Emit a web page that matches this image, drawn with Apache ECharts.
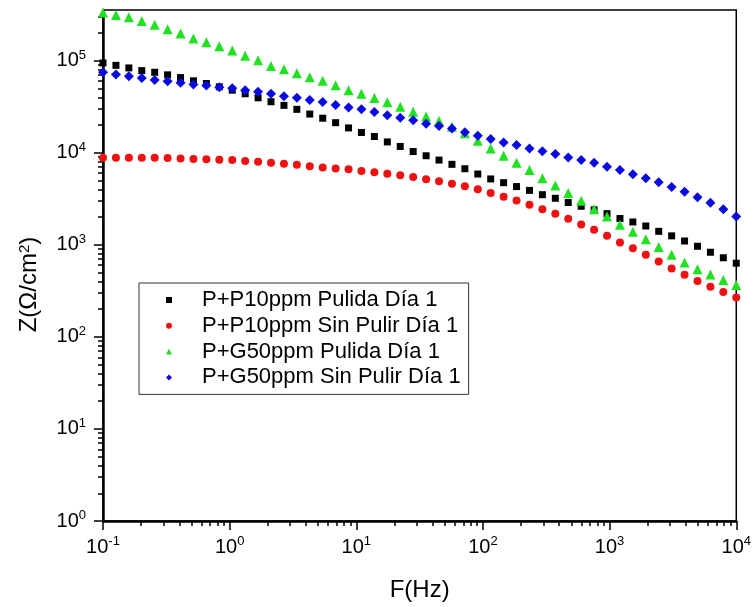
<!DOCTYPE html>
<html>
<head>
<meta charset="utf-8">
<script src="https://cdn.jsdelivr.net/npm/echarts@6/dist/echarts.min.js"></script>
<style>
  html, body { margin: 0; padding: 0; background: #fff; }
  #chart { width: 754px; height: 607px; }
</style>
</head>
<body>
<div id="chart"></div>
<script>
// Impedance modulus vs frequency, four samples
const freqHz = [0.1, 0.1265, 0.1600, 0.2024, 0.2560, 0.3237, 0.4095, 0.5179, 0.6551, 0.8286,
  1.048, 1.326, 1.677, 2.121, 2.683, 3.393, 4.292, 5.429, 6.866, 8.685,
  10.98, 13.89, 17.58, 22.23, 28.12, 35.57, 44.98, 56.90, 71.97, 91.03,
  115.1, 145.6, 184.2, 233.0, 294.7, 372.8, 471.5, 596.4, 754.3, 954.1,
  1207, 1526, 1931, 2442, 3089, 3907, 4942, 6251, 7906, 10000];

const p10Pulida = [94400, 88900, 83400, 78000, 74800, 70100, 65500, 60400, 56500, 52000,
  47800, 43700, 39500, 35800, 32700, 29600, 26300, 23700, 21200, 18600,
  16600, 15000, 13100, 11700, 10300, 9270, 8320, 7480, 6700, 5870,
  5190, 4730, 4290, 3900, 3500, 3200, 2880, 2620, 2400, 2180,
  1930, 1770, 1600, 1400, 1250, 1100, 964, 830, 723, 631];

const p10SinPulir = [8810, 8830, 8830, 8830, 8810, 8780, 8670, 8530, 8470, 8370,
  8320, 8110, 7980, 7780, 7590, 7400, 7140, 6930, 6760, 6610,
  6320, 6120, 5920, 5690, 5460, 5150, 4900, 4610, 4330, 4000,
  3650, 3320, 3030, 2720, 2440, 2170, 1920, 1660, 1460, 1250,
  1060, 916, 778, 659, 553, 473, 404, 351, 307, 267];

const g50Pulida = [333000, 314000, 296000, 269000, 245000, 220000, 197000, 174000, 158000, 143000,
  129000, 113000, 101000, 87700, 80500, 72900, 66100, 60400, 54100, 47800,
  43700, 39200, 35400, 31600, 27900, 24800, 22100, 19100, 16300, 13500,
  11100, 9270, 7780, 6490, 5270, 4400, 3660, 3000, 2440, 2030,
  1650, 1390, 1150, 948, 778, 643, 543, 476, 414, 366];

const g50SinPulir = [74800, 70600, 67600, 65000, 61800, 59700, 57400, 55100, 53700, 51500,
  50200, 47800, 45900, 43700, 41100, 39500, 37300, 35500, 32900, 31000,
  29600, 27700, 25600, 24000, 22500, 20700, 19500, 18300, 16700, 15300,
  14100, 12900, 12100, 11100, 10400, 9660, 8890, 8320, 7780, 7050,
  6490, 5830, 5270, 4780, 4250, 3780, 3290, 2860, 2440, 2030];

const seriesNames = ['P+P10ppm Pulida Día 1', 'P+P10ppm Sin Pulir Día 1',
  'P+G50ppm Pulida Día 1', 'P+G50ppm Sin Pulir Día 1'];

// Tick positions (decades and 2..9 sub-decades)
const xMajorTicks = [0.1, 1, 10, 100, 1000, 10000];
const yMajorTicks = [1, 10, 100, 1000, 10000, 100000];
const xMin = 0.1, xMax = 10000, yMin = 1, yMax = 355000;

function subDecades(lo, hi) {
  const out = [];
  for (let d = Math.floor(Math.log10(lo)); d < Math.ceil(Math.log10(hi)) + 1; d++) {
    for (let k = 2; k <= 9; k++) {
      const v = k * Math.pow(10, d);
      if (v > lo && v < hi) out.push(v);
    }
  }
  return out;
}
const xMinorTicks = subDecades(xMin, xMax);
const yMinorTicks = subDecades(yMin, yMax);

const NARROW = "'Liberation Sans Narrow', 'Liberation Sans', Arial, sans-serif";
const SANS = "'Liberation Sans', Arial, sans-serif";

const powRich = {
  b: { fontSize: 20, fontFamily: NARROW, color: '#000', lineHeight: 24 },
  s: { fontSize: 13, fontFamily: NARROW, color: '#000', lineHeight: 13, verticalAlign: 'top' }
};
function powLabel(v) {
  const e = Math.round(Math.log10(v));
  return '{b|10}{s|' + e + '}';
}

const chart = echarts.init(document.getElementById('chart'), null, { renderer: 'canvas' });

function pairs(arr) { return freqHz.map((f, i) => [f, arr[i]]); }

const markerStyles = [
  { symbol: 'rect', size: 7, color: '#000000' },
  { symbol: 'circle', size: 8, color: '#ee1111' },
  { symbol: 'triangle', size: 10, color: '#22e022' },
  { symbol: 'diamond', size: 10, color: '#0a0ae0' }
];
const values = [p10Pulida, p10SinPulir, g50Pulida, g50SinPulir];

const option = {
  animation: false,
  backgroundColor: '#fff',
  grid: {
    left: 103, right: 14, top: 10, bottom: 83,
    show: true, borderColor: '#000', borderWidth: 1.5, backgroundColor: 'transparent'
  },
  legend: {
    left: 139, top: 283, orient: 'vertical',
    itemWidth: 6, itemHeight: 6, itemGap: 3.8,
    symbolKeepAspect: true,
    padding: [6, 8, 6, 27],
    borderColor: '#333', borderWidth: 1, backgroundColor: '#fff',
    textStyle: { fontSize: 22, fontFamily: SANS, color: '#000', lineHeight: 22, padding: [0, 0, 0, 25] },
    data: seriesNames
  },
  xAxis: [
    {
      type: 'log', logBase: 10, min: xMin, max: xMax, position: 'bottom',
      axisLine: { lineStyle: { color: '#000', width: 2.5 } },
      axisTick: { inside: false, length: 9, lineStyle: { color: '#000', width: 1.5 }, customValues: xMajorTicks },
      axisLabel: { margin: 14, formatter: powLabel, rich: powRich, customValues: xMajorTicks },
      splitLine: { show: false },
      name: 'F(Hz)', nameLocation: 'middle', nameGap: 57,
      nameTextStyle: { fontSize: 24, fontFamily: NARROW, color: '#000' }
    },
    {
      type: 'log', logBase: 10, min: xMin, max: xMax, position: 'bottom',
      axisLine: { show: false },
      axisTick: { inside: false, length: 5, lineStyle: { color: '#000', width: 1.5 }, customValues: xMinorTicks },
      axisLabel: { show: false },
      splitLine: { show: false }
    }
  ],
  yAxis: [
    {
      type: 'log', logBase: 10, min: yMin, max: yMax, position: 'left',
      axisLine: { lineStyle: { color: '#000', width: 2.5 } },
      axisTick: { inside: false, length: 9, lineStyle: { color: '#000', width: 1.5 }, customValues: yMajorTicks },
      axisLabel: { margin: 17, formatter: powLabel, rich: powRich, customValues: yMajorTicks },
      splitLine: { show: false },
      name: 'Z(Ω/cm{s|2})', nameLocation: 'middle', nameGap: 62, nameRotate: 90,
      nameTextStyle: {
        fontSize: 24, fontFamily: NARROW, color: '#000', padding: [0, 38, 0, 0],
        rich: { s: { fontSize: 15, fontFamily: NARROW, color: '#000', verticalAlign: 'top', lineHeight: 15 } }
      }
    },
    {
      type: 'log', logBase: 10, min: yMin, max: yMax, position: 'left',
      axisLine: { show: false },
      axisTick: { inside: false, length: 5, lineStyle: { color: '#000', width: 1.5 }, customValues: yMinorTicks },
      axisLabel: { show: false },
      splitLine: { show: false }
    }
  ],
  series: seriesNames.map((name, k) => ({
    type: 'scatter',
    name: name,
    xAxisIndex: 0, yAxisIndex: 0,
    symbol: markerStyles[k].symbol,
    symbolSize: markerStyles[k].size,
    symbolKeepAspect: true,
    itemStyle: { color: markerStyles[k].color, opacity: 1 },
    data: pairs(values[k]),
    silent: true
  }))
};

chart.setOption(option);
</script>
</body>
</html>
